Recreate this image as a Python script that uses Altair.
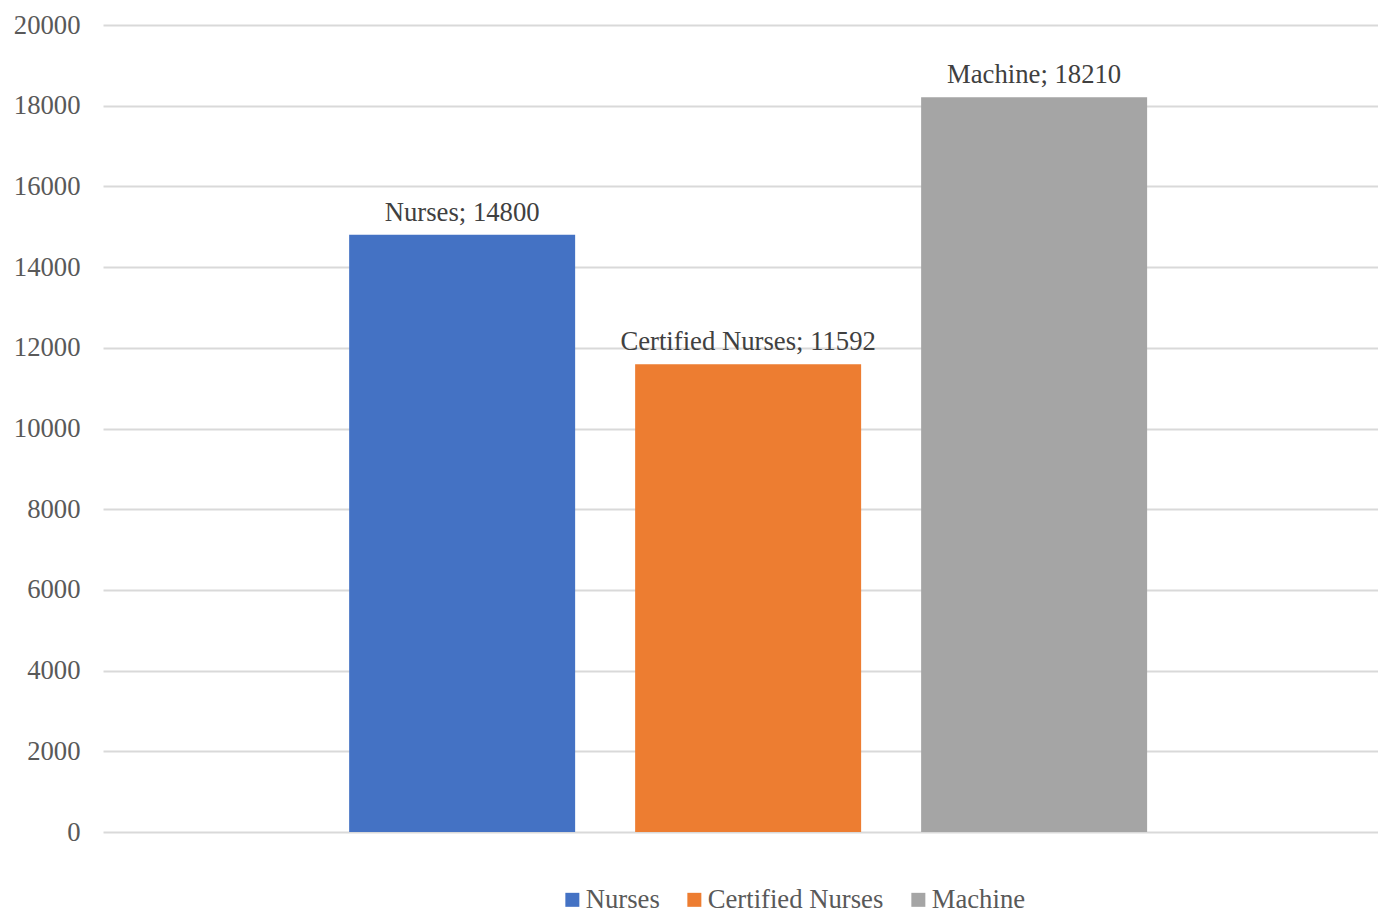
import altair as alt
import pandas as pd

series = ["Nurses", "Certified Nurses", "Machine"]
values = [14800, 11592, 18210]
colors = ["#4472C4", "#ED7D31", "#A5A5A5"]
y_ticks = [0, 2000, 4000, 6000, 8000, 10000, 12000, 14000, 16000, 18000, 20000]

df = pd.DataFrame({"series": series, "value": values})
df["label"] = [f"{s}; {v}" for s, v in zip(series, values)]

FONT = "Liberation Serif"
FS = 26.7

x_enc = alt.X("series:N", sort=series, axis=None,
              scale=alt.Scale(paddingInner=0.2098, paddingOuter=0.834, align=0.516))
y_enc = alt.Y("value:Q", title=None,
              scale=alt.Scale(domain=[0, 20000], nice=False),
              axis=alt.Axis(values=y_ticks, format="d", domain=False, ticks=False, labelPadding=23,
                            labelFont=FONT, labelFontSize=FS, labelColor="#595959",
                            grid=True, gridColor="#d9d9d9", gridWidth=2))

bars = alt.Chart(df).mark_bar().encode(
    x=x_enc,
    y=y_enc,
    color=alt.Color("series:N", sort=series,
                    scale=alt.Scale(domain=series, range=colors),
                    legend=alt.Legend(title=None, orient="none", direction="horizontal",
                                      legendX=456, legendY=861,
                                      symbolType="square", symbolSize=196,
                                      symbolStrokeWidth=0,
                                      labelFont=FONT, labelFontSize=FS, labelColor="#595959",
                                      labelLimit=400,
                                      labelOffset=0, columnPadding=21, padding=0)),
)

labels = alt.Chart(df).mark_text(font=FONT, fontSize=FS, color="#404040",
                                 baseline="alphabetic", dy=-14).encode(
    x=alt.X("series:N", sort=series),
    y="value:Q",
    text="label:N",
)

chart = (bars + labels).properties(
    width=1275, height=807,
    autosize=alt.AutoSizeParams(type="none"),
    padding={"left": 95, "top": 17, "right": 0, "bottom": 80},
).configure_view(stroke=None)

chart.save("out.html", embed_options={"renderer": "svg", "actions": False})
